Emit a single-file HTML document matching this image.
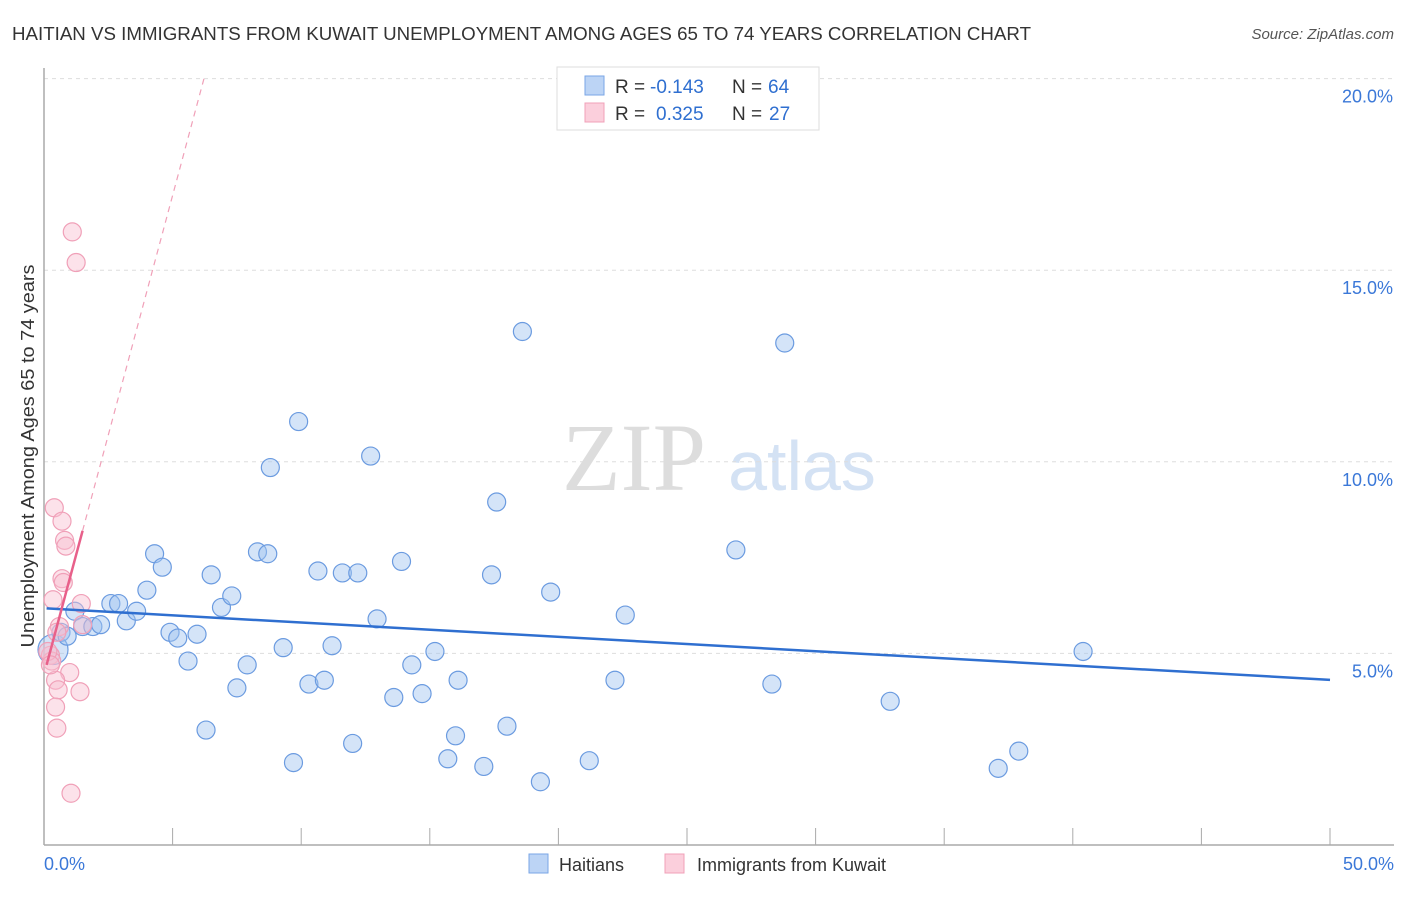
<!DOCTYPE html>
<html><head><meta charset="utf-8"><style>
body{margin:0;background:#fff;font-family:"Liberation Sans",sans-serif}
svg text{font-family:"Liberation Sans",sans-serif}
</style></head><body>
<svg id="c" width="1406" height="892" xmlns="http://www.w3.org/2000/svg">
<text x="12" y="40" font-size="18" fill="#333" textLength="1019" lengthAdjust="spacingAndGlyphs">HAITIAN VS IMMIGRANTS FROM KUWAIT UNEMPLOYMENT AMONG AGES 65 TO 74 YEARS CORRELATION CHART</text>
<text x="1394" y="39" font-size="15" fill="#555" text-anchor="end" font-style="italic">Source: ZipAtlas.com</text>
<text x="34" y="456" font-size="18" fill="#333" text-anchor="middle" textLength="383" lengthAdjust="spacingAndGlyphs" transform="rotate(-90 34 456)">Unemployment Among Ages 65 to 74 years</text>
<g><text x="634" y="490" font-size="96" fill="#ddd" text-anchor="middle" font-family="Liberation Serif" style="font-family:'Liberation Serif',serif">ZIP</text><text x="802" y="490" font-size="70" fill="#d4e2f4" text-anchor="middle">atlas</text></g>
<g id="grid"></g><g id="marks"></g>
<g>
<rect x="557" y="67" width="262" height="63" fill="#fff" stroke="#ddd"/>
<rect x="585" y="76" width="19" height="19" fill="#bcd4f5" stroke="#7aa6e6"/>
<rect x="585" y="103" width="19" height="19" fill="#fbcfdc" stroke="#f0a0b8"/>
<text x="615" y="93" font-size="19" fill="#333">R =</text><text x="650" y="93" font-size="19" fill="#2f6fd0">-0.143</text>
<text x="732" y="93" font-size="19" fill="#333">N =</text><text x="768" y="93" font-size="19" fill="#2f6fd0">64</text>
<text x="615" y="120" font-size="19" fill="#333">R =</text><text x="656" y="120" font-size="19" fill="#2f6fd0">0.325</text>
<text x="732" y="120" font-size="19" fill="#333">N =</text><text x="769" y="120" font-size="19" fill="#2f6fd0">27</text>
</g>
<g>
<rect x="529" y="854" width="19" height="19" fill="#bcd4f5" stroke="#7aa6e6"/>
<text x="559" y="871" font-size="18" fill="#333">Haitians</text>
<rect x="665" y="854" width="19" height="19" fill="#fbcfdc" stroke="#f0a0b8"/>
<text x="697" y="871" font-size="18" fill="#333">Immigrants from Kuwait</text>
</g>
</svg>
<script>
const blueX=[0.35,0.66,0.9,1.2,1.5,1.9,2.2,2.6,2.9,3.2,3.6,4.0,4.3,4.6,4.9,5.2,5.6,5.95,6.3,6.5,6.9,7.3,7.5,7.9,8.3,8.7,8.8,9.3,9.7,9.9,10.3,10.65,10.9,11.2,11.6,12.0,12.2,12.7,12.95,13.6,13.9,14.3,14.7,15.2,15.7,16.0,16.1,17.1,17.4,17.6,18.0,18.6,19.3,19.7,21.2,22.2,22.6,26.9,28.3,28.8,32.9,37.1,37.9,40.4];
const blueY=[5.1,5.55,5.45,6.1,5.7,5.7,5.75,6.3,6.3,5.85,6.1,6.65,7.6,7.25,5.55,5.4,4.8,5.5,3.0,7.05,6.2,6.5,4.1,4.7,7.65,7.6,9.85,5.15,2.15,11.05,4.2,7.15,4.3,5.2,7.1,2.65,7.1,10.15,5.9,3.85,7.4,4.7,3.95,5.05,2.25,2.85,4.3,2.05,7.05,8.95,3.1,13.4,1.65,6.6,2.2,4.3,6.0,7.7,4.2,13.1,3.75,2.0,2.45,5.05];
const pinkX=[0.4,0.7,0.8,0.85,0.7,0.75,0.35,1.45,0.6,1.5,0.25,0.3,1.0,0.45,0.55,1.4,0.45,0.5,1.05,1.1,1.25,0.15,0.25,0.5];
const pinkY=[8.8,8.45,7.95,7.8,6.95,6.85,6.4,6.3,5.7,5.75,4.95,4.8,4.5,4.3,4.05,4.0,3.6,3.05,1.35,16.0,15.2,5.05,4.7,5.55];
const blueTrend=[6.18,4.31];
const pinkTrend=[4.45,2.5];
const yTicks=[5,10,15,20];
const xTickLabels=["0.0%","50.0%"];
const X=v=>44+v*25.72, Y=v=>845-v*38.32;
const NS="http://www.w3.org/2000/svg";
const grid=document.getElementById('grid'), marks=document.getElementById('marks');
function mk(tag,attrs,parent){const e=document.createElementNS(NS,tag);for(const k in attrs)e.setAttribute(k,attrs[k]);parent.appendChild(e);return e;}
yTicks.forEach(t=>{
 const l=mk('line',{x1:44,x2:1394,y1:Y(t),y2:Y(t),stroke:'#ddd','stroke-dasharray':'4,4'},grid);
 
 
 const tx=mk('text',{x:1393,y:Y(t)+24,'font-size':18,fill:'#3b78d8','text-anchor':'end'},grid);
 tx.textContent=t.toFixed(1)+'%';
 
 
});
const ax=mk('line',{x1:44,x2:44,y1:68,y2:845,stroke:'#aaa','stroke-width':1.5},grid);


const bx=mk('line',{x1:44,x2:1394,y1:845,y2:845,stroke:'#aaa','stroke-width':1.5},grid);


for(let i=0;i<=10;i++){const t=mk('line',{x1:X(i*5),x2:X(i*5),y1:828,y2:845,stroke:'#aaa'},grid);
 
 }
[[0,'start',44],[50,'end',1394]].forEach((d,i)=>{const t=mk('text',{x:d[2],y:870,'font-size':18,fill:'#3b78d8','text-anchor':d[1]},grid);t.textContent=xTickLabels[i];
 
 });
blueX.forEach((x,i)=>{const c=mk('circle',{cx:X(x),cy:Y(blueY[i]),r:i==0?15:9,fill:'rgba(160,196,240,0.45)',stroke:'#6b9be0','stroke-width':1.2},marks);
 
 });
pinkX.forEach((x,i)=>{const c=mk('circle',{cx:X(x),cy:Y(pinkY[i]),r:9,fill:'rgba(248,190,208,0.45)',stroke:'#f0a0b8','stroke-width':1.2},marks);
 
 });
const bl=mk('line',{x1:X(0.1),y1:Y(blueTrend[0]+(blueTrend[1]-blueTrend[0])*0.1/50),x2:X(50),y2:Y(blueTrend[1]),stroke:'#2f6fd0','stroke-width':2.5},marks);


const pe=(20-pinkTrend[0])/pinkTrend[1];
const pd=mk('line',{x1:X(1.5),y1:Y(pinkTrend[0]+pinkTrend[1]*1.5),x2:X(pe),y2:Y(20),stroke:'#f0a0b8','stroke-width':1.2,'stroke-dasharray':'6,5'},marks);


const ps=mk('line',{x1:X(0.1),y1:Y(pinkTrend[0]+pinkTrend[1]*0.1),x2:X(1.5),y2:Y(pinkTrend[0]+pinkTrend[1]*1.5),stroke:'#e8608a','stroke-width':2.5},marks);


</script>
</body></html>
